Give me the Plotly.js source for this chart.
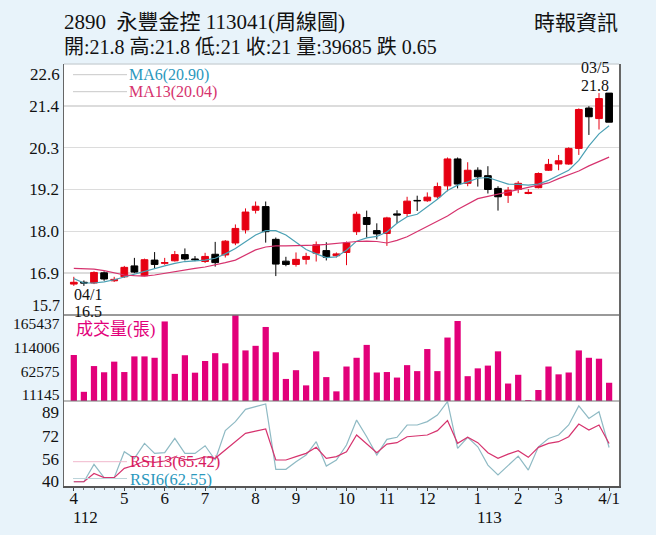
<!DOCTYPE html>
<html>
<head>
<meta charset="utf-8">
<script src="https://cdn.plot.ly/plotly-3.0.1.min.js"></script>
<style>html,body{margin:0;padding:0;background:#e8f3fa;}#chart{width:656px;height:535px;}</style>
</head>
<body>
<div id="chart"></div>
<script>
// ---- data (weekly, 2023/04 .. 2024/04) ----
const openP  = [16.55,16.60,16.58,16.86,16.64,16.75,17.05,16.78,17.21,17.12,17.19,17.36,17.24,17.17,17.37,17.35,17.68,18.04,18.58,18.68,17.78,17.18,17.09,17.23,17.40,17.47,17.33,17.42,17.99,18.38,18.02,17.94,18.48,18.49,18.85,18.84,18.95,19.25,19.99,19.32,19.68,19.53,19.18,18.99,19.15,19.04,19.20,19.68,19.85,19.85,20.28,21.39,21.10,21.80];
const highP  = [16.75,16.65,16.90,16.90,16.75,17.05,17.27,17.25,17.43,17.27,17.46,17.53,17.32,17.41,17.71,17.76,18.19,18.63,18.82,18.82,17.83,17.30,17.42,17.41,17.72,17.70,17.42,17.72,18.54,18.57,18.22,18.40,18.58,18.95,18.98,19.07,19.34,20.03,20.03,19.90,19.76,19.79,19.24,19.22,19.38,19.16,19.62,19.99,20.10,20.31,21.38,21.44,21.80,21.80];
const lowP   = [16.50,16.50,16.55,16.64,16.61,16.72,16.85,16.77,16.98,17.08,17.17,17.20,17.18,17.13,17.03,17.28,17.62,17.94,18.49,17.69,16.77,17.04,17.03,17.09,17.17,17.20,17.28,17.07,17.90,17.83,17.78,17.60,18.22,18.40,18.56,18.81,18.90,19.10,19.18,19.24,19.23,19.04,18.57,18.78,19.05,19.02,19.18,19.66,19.68,19.83,20.10,20.65,20.80,21.00];
const closeP = [16.60,16.58,16.87,16.69,16.68,17.01,16.88,17.22,17.09,17.14,17.36,17.24,17.22,17.31,17.14,17.73,18.08,18.53,18.69,17.99,17.10,17.09,17.23,17.31,17.63,17.29,17.38,17.68,18.47,18.19,17.93,18.37,18.45,18.83,18.84,18.94,19.23,19.99,19.30,19.68,19.50,19.15,18.95,19.13,19.32,19.07,19.59,19.84,19.94,20.28,21.35,21.15,21.65,21.00];
const ma6    = [16.70,16.58,16.58,16.61,16.67,16.75,16.83,16.89,16.98,17.05,17.12,17.17,17.19,17.21,17.26,17.38,17.53,17.71,17.90,18.02,18.02,17.90,17.71,17.50,17.38,17.28,17.30,17.48,17.73,17.82,17.86,17.98,18.22,18.40,18.47,18.67,18.88,19.12,19.27,19.36,19.46,19.48,19.40,19.30,19.29,19.27,19.30,19.40,19.54,19.68,19.95,20.35,20.68,20.90];
const ma13   = [16.98,16.97,16.96,16.92,16.86,16.80,16.78,16.77,16.80,16.85,16.89,16.94,16.98,17.02,17.07,17.14,17.21,17.35,17.49,17.57,17.60,17.60,17.60,17.61,17.62,17.64,17.67,17.69,17.72,17.73,17.72,17.68,17.75,17.85,17.99,18.13,18.26,18.42,18.60,18.76,18.90,18.96,19.02,19.07,19.13,19.20,19.26,19.33,19.45,19.56,19.66,19.80,19.92,20.04];
const volume = [100000,20000,76000,62500,85600,63000,97000,97000,94000,173000,59000,99500,61600,87000,104000,82000,195000,110000,120000,161000,106000,48000,67000,34000,108000,52000,21000,75000,94000,122000,62000,63000,51000,78000,65000,113000,65000,138000,174000,54000,71000,77000,108000,38000,57000,2000,24000,75000,58000,62000,110000,94000,92000,39685];
const rsi6   = [38.3,38.3,50.6,41.2,41.2,59.6,54.9,65.5,58.4,58.9,69.0,58.4,58.4,63.8,53.7,74.5,80.9,89.6,91.5,93.4,47.1,47.1,52.5,57.2,66.7,49.4,53.7,64.3,82.0,70.2,57.2,68.3,69.8,78.5,78.5,80.9,85.6,95.0,62.0,69.8,63.1,50.1,43.1,50.1,56.5,46.6,63.1,69.0,71.4,78.5,92.0,83.2,87.9,62.55];
const rsi13  = [38.3,38.3,44.2,41.2,41.2,47.8,50.0,53.0,52.0,53.0,56.0,54.0,54.0,56.0,54.9,60.8,66.7,72.6,74.2,75.7,53.7,53.7,56.1,58.4,62.7,54.9,56.1,59.6,71.4,65.0,58.9,65.0,66.0,70.2,70.7,71.4,74.5,81.6,65.5,69.8,66.0,58.9,54.9,57.9,60.3,55.6,62.7,65.5,66.7,70.2,79.2,75.0,78.5,65.42];

const monthTickIdx  = [0,5,9,13,18,22,27,31,35,40,44,48,53];
const monthTickText = ['4','5','6','7','8','9','10','11','12','1','2','3','4/1'];
const yearTickIdx   = [0,40];
const yearTickText  = ['112','113'];
const priceTicks    = [15.7,16.85,18.0,19.15,20.3,21.45,22.6];
const priceTickText = ['15.7','16.9','18.0','19.2','20.3','21.4','22.6'];
const volTicks      = [11145,62575,114006,165437];
const volTickText   = ['11145','62575','114006','165437'];
const rsiTicks      = [40,56,72,89];
const rsiTickText   = ['40','56','72','89'];

const titleLine1 = '2890  永豐金控 113041(周線圖)';
const titleLine2 = '開:21.8 高:21.8 低:21 收:21 量:39685 跌 0.65';
const source = '時報資訊';
const ma6Label = 'MA6(20.90)', ma13Label = 'MA13(20.04)';
const volLabel = '成交量(張)';
const rsi13Label = 'RSI13(65.42)', rsi6Label = 'RSI6(62.55)';
const lowDate = '04/1', lowVal = '16.5', highDate = '03/5', highVal = '21.8';
const lowIdx = 0, highIdx = 52;

// ---- styles ----
const FONT = 'Liberation Serif, "Noto Sans CJK TC", serif';
const RED = '#e60012', BLACK = '#000000', VOLC = '#e2007a';
const TEAL = '#4aa0b4', PINK = '#d6336e', RSI6C = '#8fbac4';
const x = openP.map((_, i) => i);

const traces = [
  {type:'candlestick', x:x, open:openP, high:highP, low:lowP, close:closeP,
   xaxis:'x', yaxis:'y', whiskerwidth:0, hoverinfo:'skip',
   increasing:{line:{color:RED,width:1}, fillcolor:RED},
   decreasing:{line:{color:BLACK,width:1}, fillcolor:BLACK}},
  {type:'scatter', mode:'lines', x:x, y:ma6, xaxis:'x', yaxis:'y', line:{color:TEAL,width:1.2}, hoverinfo:'skip'},
  {type:'scatter', mode:'lines', x:x, y:ma13, xaxis:'x', yaxis:'y', line:{color:PINK,width:1.2}, hoverinfo:'skip'},
  {type:'bar', x:x, y:volume, xaxis:'x', yaxis:'y2', width:0.62, marker:{color:VOLC, line:{width:0}}, hoverinfo:'skip'},
  {type:'scatter', mode:'lines', x:x, y:rsi6, xaxis:'x', yaxis:'y3', line:{color:RSI6C,width:1.2}, hoverinfo:'skip'},
  {type:'scatter', mode:'lines', x:x, y:rsi13, xaxis:'x', yaxis:'y3', line:{color:PINK,width:1.2}, hoverinfo:'skip'}
];

const tickFont = {family:FONT, size:17, color:'#111'};
const W = 555, H = 422;
const py = p => (486 - p) / H;       // pixel row -> paper y
const px = p => (p - 64) / W;        // pixel col -> paper x

const layout = {
  width:656, height:535,
  margin:{l:64, r:37, t:64, b:49, pad:0},
  paper_bgcolor:'#e8f3fa', plot_bgcolor:'#ffffff',
  showlegend:false, hovermode:false, boxgap:0.05, boxgroupgap:0.3,
  font:{family:FONT, color:'#111'},
  xaxis:{anchor:'y3', range:[-0.97,53.98], tickmode:'array', tickvals:monthTickIdx, ticktext:monthTickText,
         ticks:'outside', ticklen:3, tickcolor:'#444', tickfont:tickFont, ticklabelstandoff:-7,
         showline:true, linecolor:'#555', linewidth:1.5, showgrid:false, zeroline:false,
         rangeslider:{visible:false},
         minor:{tickmode:'linear', tick0:0, dtick:1, ticks:'outside', ticklen:2, tickcolor:'#777', showgrid:false}},
  yaxis:{domain:[0.4052,1], range:[15.7,22.6], tickmode:'array',
         tickvals:priceTicks, ticktext:priceTickText.map((t,i)=> (i===0||i===priceTicks.length-1)?'':t),
         tickfont:tickFont, ticks:'', showgrid:true, gridcolor:'#dcdcdc', gridwidth:1.5,
         showline:true, linecolor:'#666', linewidth:1.5, mirror:true, zeroline:false},
  yaxis2:{domain:[0.2014,0.4052], range:[0,187000], tickmode:'array', tickvals:volTicks, ticktext:volTickText,
          tickfont:{family:FONT,size:15.5,color:'#111'}, ticks:'', showgrid:false, ticklabelshift:-1,
          showline:true, linecolor:'#666', linewidth:1.5, mirror:true, zeroline:false},
  yaxis3:{domain:[0,0.2014], range:[35.3,95.5], tickmode:'array', tickvals:rsiTicks, ticktext:rsiTickText,
          tickfont:tickFont, ticks:'', showgrid:false, ticklabelshift:2,
          showline:true, linecolor:'#666', linewidth:1.5, mirror:true, zeroline:false},
  shapes:[
    {type:'line', xref:'paper', yref:'y domain', x0:0, x1:1, y0:1, y1:1, line:{color:'#cfd6da', width:1.5}},
    {type:'line', xref:'paper', yref:'y domain', x0:0, x1:1, y0:0, y1:0, line:{color:'#777', width:1.5}},
    {type:'line', xref:'paper', yref:'y2 domain', x0:0, x1:1, y0:0, y1:0, line:{color:'#777', width:1}},
    {type:'line', xref:'paper', yref:'paper', x0:px(73), x1:px(127), y0:py(74.7), y1:py(74.7), line:{color:'#c8c8c8', width:1}},
    {type:'line', xref:'paper', yref:'paper', x0:px(73), x1:px(127), y0:py(91.7), y1:py(91.7), line:{color:'#c8c8c8', width:1}},
    {type:'line', xref:'paper', yref:'paper', x0:px(73), x1:px(127), y0:py(461.7), y1:py(461.7), line:{color:'#f0b8cc', width:1}},
    {type:'line', xref:'paper', yref:'paper', x0:px(73), x1:px(127), y0:py(478.5), y1:py(478.5), line:{color:'#bcd4da', width:1}}
  ],
  annotations:[
    {text:titleLine1, xref:'paper', yref:'paper', x:px(62), y:py(22), xanchor:'left', yanchor:'middle', showarrow:false, font:{family:FONT,size:21,color:'#111'}},
    {text:titleLine2, xref:'paper', yref:'paper', x:px(62), y:py(47), xanchor:'left', yanchor:'middle', showarrow:false, font:{family:FONT,size:20,color:'#111'}},
    {text:source, xref:'paper', yref:'paper', x:px(620), y:py(23), xanchor:'right', yanchor:'middle', showarrow:false, font:{family:FONT,size:21,color:'#111'}},
    {text:priceTickText[priceTickText.length-1], xref:'paper', yref:'y', x:0, y:priceTicks[priceTicks.length-1], xanchor:'right', yanchor:'middle', xshift:-2, yshift:-10.5, showarrow:false, font:tickFont},
    {text:priceTickText[0], xref:'paper', yref:'y', x:0, y:priceTicks[0], xanchor:'right', yanchor:'middle', xshift:-2, yshift:9.5, showarrow:false, font:{family:FONT,size:16,color:'#111'}},
    {text:ma6Label, xref:'paper', yref:'paper', x:px(127), y:py(74.7), xanchor:'left', yanchor:'middle', showarrow:false, font:{family:FONT,size:16,color:'#2b98bd'}},
    {text:ma13Label, xref:'paper', yref:'paper', x:px(127), y:py(91.7), xanchor:'left', yanchor:'middle', showarrow:false, font:{family:FONT,size:16,color:PINK}},
    {text:volLabel, xref:'paper', yref:'paper', x:px(74), y:py(329), xanchor:'left', yanchor:'middle', showarrow:false, font:{family:FONT,size:17,color:'#e2007a'}},
    {text:rsi13Label, xref:'paper', yref:'paper', x:px(128), y:py(461.7), xanchor:'left', yanchor:'middle', showarrow:false, font:{family:FONT,size:16.5,color:'#d81b60'}},
    {text:rsi6Label, xref:'paper', yref:'paper', x:px(128), y:py(479.3), xanchor:'left', yanchor:'middle', showarrow:false, font:{family:FONT,size:16.5,color:'#2b98bd'}},
    {text:lowDate, xref:'x', yref:'paper', x:lowIdx, y:py(294), xanchor:'left', yanchor:'middle', xshift:-2, showarrow:false, font:{family:FONT,size:16,color:'#111'}},
    {text:lowVal, xref:'x', yref:'paper', x:lowIdx, y:py(311), xanchor:'left', yanchor:'middle', xshift:-2, showarrow:false, font:{family:FONT,size:16,color:'#111'}},
    {text:highDate, xref:'x', yref:'paper', x:highIdx, y:py(67.5), xanchor:'center', yanchor:'middle', xshift:-4, showarrow:false, font:{family:FONT,size:16,color:'#111'}},
    {text:highVal, xref:'x', yref:'paper', x:highIdx, y:py(85), xanchor:'center', yanchor:'middle', xshift:-4, showarrow:false, font:{family:FONT,size:16,color:'#111'}}
  ].concat(yearTickIdx.map((v,i)=>({text:yearTickText[i], xref:'x', yref:'paper', x:v, y:py(517), xanchor:'left', yanchor:'middle', xshift:-3, showarrow:false, font:tickFont})))
};

Plotly.newPlot('chart', traces, layout, {displayModeBar:false, staticPlot:true});
</script>
</body>
</html>
